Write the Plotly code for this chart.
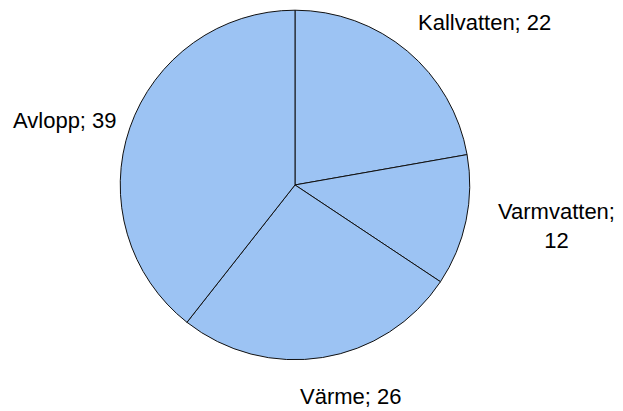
import plotly.graph_objects as go

labels = ["Kallvatten", "Varmvatten", "Värme", "Avlopp"]
values = [22, 12, 26, 39]
label_text = ["Kallvatten; 22", "Varmvatten;<br>12", "Värme; 26", "Avlopp; 39"]
# label anchor positions (paper fraction) — layout styling only
label_pos = [(0.778, 0.946), (0.894, 0.450), (0.563, 0.036), (0.104, 0.708)]

fig = go.Figure(go.Pie(
    labels=labels,
    values=values,
    textinfo="none",
    sort=False,
    direction="clockwise",
    rotation=0,
    marker=dict(colors=["#9cc3f3"] * 4, line=dict(color="#111111", width=1)),
    showlegend=False,
    hoverinfo="label+value",
    domain=dict(x=[0.193, 0.754], y=[0.124, 0.976]),
))

for txt, (x, y) in zip(label_text, label_pos):
    fig.add_annotation(
        text=txt, x=x, y=y, xref="paper", yref="paper",
        xanchor="center", yanchor="middle", showarrow=False,
        font=dict(family="Liberation Sans, Arial, sans-serif", size=22, color="#000000"),
    )

fig.update_layout(
    width=623, height=411,
    margin=dict(l=0, r=0, t=0, b=0),
    paper_bgcolor="white",
    plot_bgcolor="white",
)

fig.write_html(
    "out.html",
    config={"displayModeBar": False},
    post_script="document.body.style.margin='0';document.body.style.overflow='hidden';",
)
